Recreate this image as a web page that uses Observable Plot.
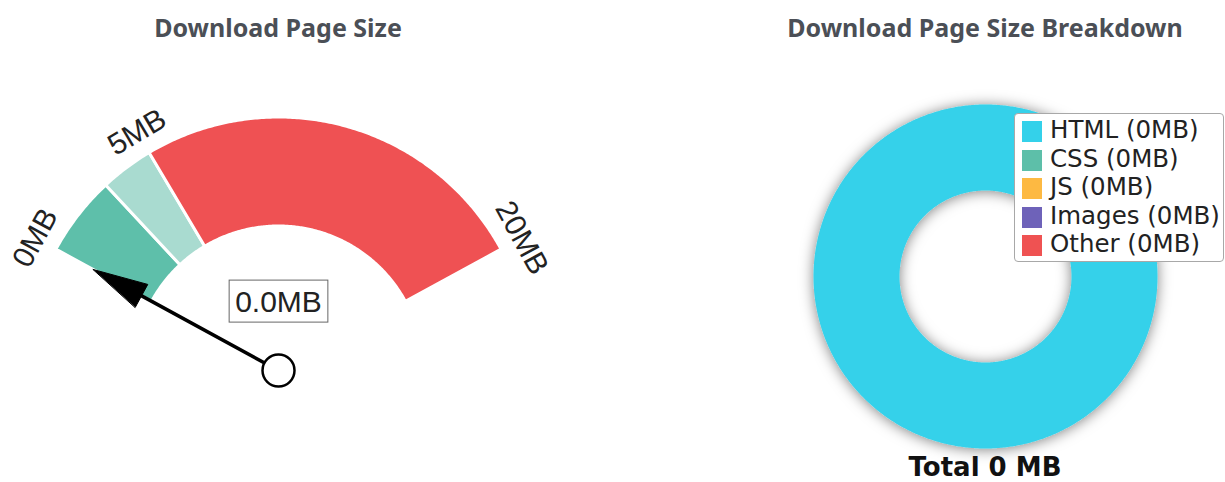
<!DOCTYPE html>
<html>
<head>
<meta charset="utf-8">
<script src="https://cdn.jsdelivr.net/npm/d3@7"></script>
<script src="https://cdn.jsdelivr.net/npm/@observablehq/plot@0.6"></script>
<style>
  body { margin: 0; background: #fff; }
  #root { position: relative; width: 1225px; height: 482px; overflow: hidden; background: #fff; }
  .title { position: absolute; top: 15px; font: bold 25px/25px "Noto Sans", "Open Sans", sans-serif; color: #4b4f56; text-align: center; white-space: nowrap; }
  .panel { position: absolute; top: 48px; }
  #legend { position: absolute; left: 1014px; top: 113px; width: 208px; height: 145px; padding-top: 2px; border: 1px solid #a8a8a8; border-radius: 4px; background: #fff; box-sizing: content-box; }
  .row { position: relative; height: 28.5px; font: 24.5px/28.5px "DejaVu Sans", sans-serif; color: #222; white-space: nowrap; }
  .sw { position: absolute; left: 7px; top: 5px; width: 20px; height: 21px; }
  .lab { position: absolute; left: 35px; top: 0; }
  #total { position: absolute; left: 745px; width: 480px; top: 454px; text-align: center; font: bold 26px/26px "DejaVu Sans", sans-serif; color: #111; }
</style>
</head>
<body>
<div id="root"></div>
<script>
// ---------------- data ----------------
const gaugeTitle = "Download Page Size";
const donutTitle = "Download Page Size Breakdown";
const gaugeMin = 0;
const gaugeMax = 20;
const gaugeTicks = [0, 5, 20];
const gaugeTickLabels = ["0MB", "5MB", "20MB"];
const bandStarts = [0, 3, 5];
const bandEnds = [3, 5, 20];
const bandColors = ["#5ebfaa", "#a9dbd0", "#ef5153"];
const gaugeValue = 0.0;

const categories = ["HTML", "CSS", "JS", "Images", "Other"];
const sizesMB = [0, 0, 0, 0, 0];
const categoryColors = ["#34d1ea", "#5dbfa9", "#fdb942", "#6e62b9", "#ef5252"];

// ---------------- layout ----------------
const SVGNS = "http://www.w3.org/2000/svg";
const root = document.getElementById("root");
const GW = 556, GH = 434;         // gauge svg
const DW = 480, DH = 434;         // donut svg
const SWEEP = 61.4;               // half-sweep of the gauge, degrees
const R_OUT = 253.5, R_IN = 144.5, R_LABEL = 277;
const NEEDLE = 211, HEAD = 55, HEAD_HALF = 13;
const D_OUT = 172, D_IN = 86;

const rad = d => d * Math.PI / 180;
const angOf = v => -SWEEP + (v - gaugeMin) / (gaugeMax - gaugeMin) * 2 * SWEEP;
const polar = (r, deg) => ({x: r * Math.sin(rad(deg)), y: r * Math.cos(rad(deg))});

function ring(a0, a1, rIn, rOut, key, color) {
  const n = Math.max(2, Math.ceil(Math.abs(a1 - a0) * 2));
  const pts = [];
  for (let i = 0; i <= n; i++) pts.push({...polar(rOut, a0 + (a1 - a0) * i / n), key, color});
  for (let i = n; i >= 0; i--) pts.push({...polar(rIn, a0 + (a1 - a0) * i / n), key, color});
  return pts;
}

function addTitle(text, left, width) {
  const d = document.createElement("div");
  d.className = "title"; d.textContent = text;
  d.style.left = left + "px"; d.style.width = width + "px";
  root.appendChild(d);
}
addTitle(gaugeTitle, 0, GW);
addTitle(donutTitle, 745, DW);

// ---------------- gauge ----------------
const bandPts = bandStarts.flatMap((s, i) => ring(angOf(s), angOf(bandEnds[i]), R_IN, R_OUT, "b" + i, bandColors[i]));
const tickPts = gaugeTicks.map((t, i) => ({...polar(R_LABEL, angOf(t)), rot: angOf(t), label: gaugeTickLabels[i]}));
const va = angOf(gaugeValue);
const shaft = [polar(0, va), polar(NEEDLE - HEAD + 4, va)];
const baseC = polar(NEEDLE - HEAD, va);
const perp = {x: Math.cos(rad(va)), y: -Math.sin(rad(va))};
const head = [
  polar(NEEDLE, va),
  {x: baseC.x + perp.x * HEAD_HALF, y: baseC.y + perp.y * HEAD_HALF},
  {x: baseC.x - perp.x * HEAD_HALF, y: baseC.y - perp.y * HEAD_HALF}
];
const valueLabel = [{x: 0, y: 68.5, label: gaugeValue.toFixed(1) + "MB"}];

const gauge = Plot.plot({
  width: GW, height: GH, margin: 0,
  x: {domain: [-GW / 2, GW / 2], axis: null},
  y: {domain: [-112, 322], axis: null},
  color: {type: "identity"},
  style: {background: "transparent", overflow: "visible"},
  marks: [
    Plot.line(bandPts, {x: "x", y: "y", z: "key", fill: "color", stroke: "white", strokeWidth: 3, curve: "linear-closed"}),
    Plot.text(tickPts, {x: "x", y: "y", text: "label", rotate: "rot", fontSize: 30, fontFamily: "Liberation Sans", fill: "#222"}),
    Plot.line(shaft, {x: "x", y: "y", stroke: "black", strokeWidth: 3.5}),
    Plot.line(head, {x: "x", y: "y", fill: "black", stroke: "black", strokeWidth: 1, curve: "linear-closed"}),
    Plot.dot([polar(0, 0)], {x: "x", y: "y", r: 16, fill: "white", stroke: "black", strokeWidth: 2.5}),
    Plot.text(valueLabel, {x: "x", y: "y", text: "label", fontSize: 30, fontFamily: "Liberation Sans", fill: "#222"})
  ]
});
const gp = document.createElement("div");
gp.className = "panel"; gp.style.left = "0px";
gp.appendChild(gauge); root.appendChild(gp);

// box around the value label (last text mark)
(function () {
  const groups = gauge.querySelectorAll('g[aria-label="text"]');
  const g = groups[groups.length - 1];
  if (!g) return;
  const t = g.querySelector("text");
  if (!t) return;
  const bb = t.getBBox();
  const r = document.createElementNS(SVGNS, "rect");
  r.setAttribute("x", bb.x - 6); r.setAttribute("y", bb.y - 4.5);
  r.setAttribute("width", bb.width + 12); r.setAttribute("height", bb.height + 9);
  r.setAttribute("fill", "white"); r.setAttribute("stroke", "#666"); r.setAttribute("stroke-width", 1);
  if (t.getAttribute("transform")) r.setAttribute("transform", t.getAttribute("transform"));
  g.insertBefore(r, t);
})();

// ---------------- donut ----------------
const total = d3.sum(sizesMB);
const shares = total > 0 ? sizesMB : sizesMB.map((v, i) => (i === 0 ? 1 : 0));
const shareSum = d3.sum(shares);
let acc = 0;
const slicePts = [];
shares.forEach((v, i) => {
  if (v <= 0) return;
  const a0 = acc / shareSum * 360, a1 = (acc + v) / shareSum * 360;
  acc += v;
  slicePts.push(...ring(a0, a1, D_IN, D_OUT, categories[i], categoryColors[i]));
});

const donut = Plot.plot({
  width: DW, height: DH, margin: 0,
  x: {domain: [-DW / 2, DW / 2], axis: null},
  y: {domain: [-206, 228], axis: null},
  color: {type: "identity"},
  style: {background: "transparent", overflow: "visible"},
  marks: [
    Plot.line(slicePts, {x: "x", y: "y", z: "key", fill: "color", strokeWidth: 0, curve: "linear-closed"})
  ]
});
const dp = document.createElement("div");
dp.className = "panel"; dp.style.left = "745px";
dp.appendChild(donut); root.appendChild(dp);

// drop shadow for the ring
(function () {
  const defs = document.createElementNS(SVGNS, "defs");
  const filter = document.createElementNS(SVGNS, "filter");
  filter.setAttribute("id", "dshadow");
  filter.setAttribute("x", "-25%"); filter.setAttribute("y", "-25%");
  filter.setAttribute("width", "150%"); filter.setAttribute("height", "150%");
  const fe = document.createElementNS(SVGNS, "feDropShadow");
  fe.setAttribute("dx", "0"); fe.setAttribute("dy", "1");
  fe.setAttribute("stdDeviation", "7");
  fe.setAttribute("flood-color", "#000"); fe.setAttribute("flood-opacity", "0.5");
  filter.appendChild(fe); defs.appendChild(filter);
  donut.insertBefore(defs, donut.firstChild);
  const g = donut.querySelector('g[aria-label="line"]');
  if (g) g.setAttribute("filter", "url(#dshadow)");
})();

// legend
const legend = document.createElement("div");
legend.id = "legend";
categories.forEach((c, i) => {
  const row = document.createElement("div"); row.className = "row";
  const sw = document.createElement("div"); sw.className = "sw"; sw.style.background = categoryColors[i];
  const lab = document.createElement("div"); lab.className = "lab";
  lab.textContent = `${c} (${sizesMB[i]}MB)`;
  row.appendChild(sw); row.appendChild(lab); legend.appendChild(row);
});
root.appendChild(legend);

// total caption
const tot = document.createElement("div");
tot.id = "total"; tot.textContent = `Total ${total} MB`;
root.appendChild(tot);
</script>
</body>
</html>
